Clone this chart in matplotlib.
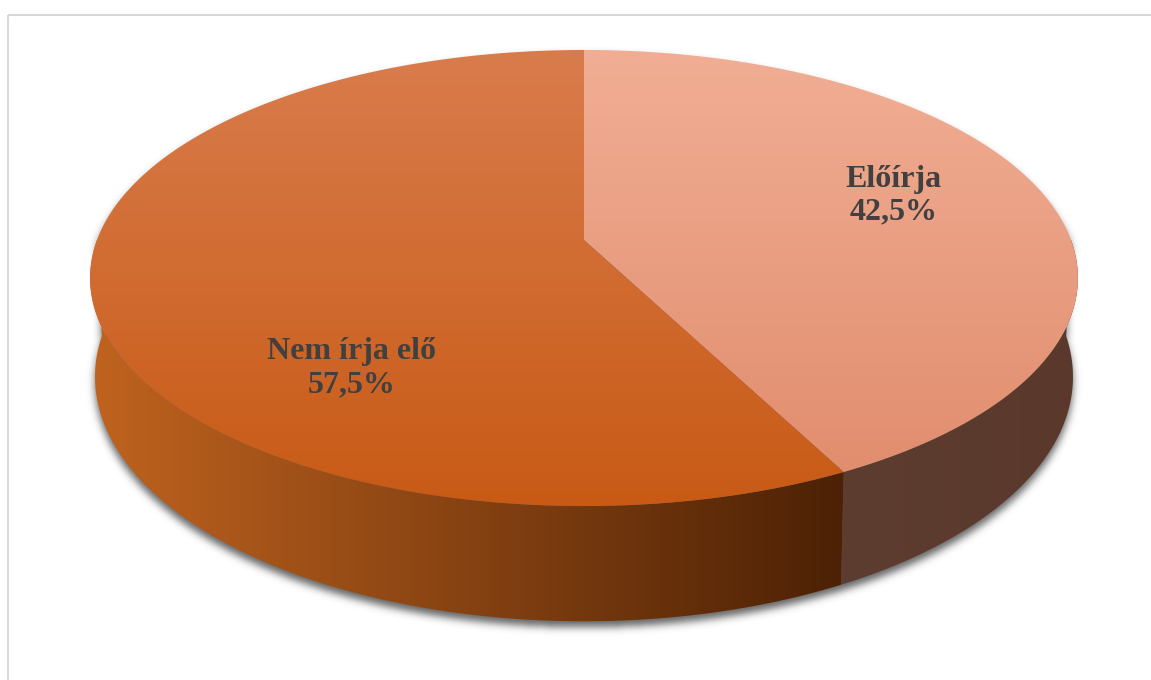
import numpy as np
import matplotlib
matplotlib.use("Agg")
import matplotlib.pyplot as plt
from matplotlib.patches import Polygon, Rectangle
from matplotlib.path import Path

# Data
labels = ["Előírja", "Nem írja elő"]
values = [42.5, 57.5]
value_texts = ["42,5%", "57,5%"]

# label anchor points (pixel coords, centre of the two-line label)
label_pos = [(894, 195), (352, 368)]

# top colour, bottom colour of each top face
top_colors = [("#F1AE94", "#E08B6B"), ("#D97C4C", "#C85A15")]
# side colours (left -> right)
side_colors = [("#5E3D31", "#5A392C"), ("#C0631F", "#4C2105")]

W, H = 1151, 680

# projection of the pie (perspective)
CX, CY = 584, 240
A, B = 487, 221.7
K = 0.1667
DEPTH = 96
BOTTOM_SCALE = 0.99   # bottom rim is a bit narrower (further from camera)


def proj(phi, r=1.0, drop=0.0):
    u = r * np.cos(phi)
    w = r * np.sin(phi)
    s = 1.0 / (1.0 + K * w)
    sx = BOTTOM_SCALE if drop else 1.0
    return CX + A * u * s * sx, CY - B * w * s + drop * s


def gradient_img(c1, c2, vertical, lo, hi):
    c1 = np.array(matplotlib.colors.to_rgb(c1))
    c2 = np.array(matplotlib.colors.to_rgb(c2))
    if vertical:
        t = np.clip((np.arange(H) - lo) / (hi - lo), 0, 1)[:, None, None]
        t = np.repeat(t, W, axis=1)
    else:
        t = np.clip((np.arange(W) - lo) / (hi - lo), 0, 1)[None, :, None]
        t = np.repeat(t, H, axis=0)
    return c1 + (c2 - c1) * t


fig = plt.figure(figsize=(W / 100, H / 100), dpi=100)
ax = fig.add_axes([0, 0, 1, 1])
ax.set_xlim(0, W)
ax.set_ylim(H, 0)
ax.axis("off")

# chart border
ax.add_patch(Rectangle((8, 15), W, H, fill=False, ec="#D9D9D9", lw=1.5, zorder=0))

# shadow under the pie
back = np.linspace(0, np.pi, 200)
front = np.linspace(np.pi, 2 * np.pi, 200)
bx, by = proj(back)
fx, fy = proj(front, drop=DEPTH)
sil = np.column_stack([np.r_[bx, fx], np.r_[by, fy] + 6])
yy, xx = np.mgrid[0:H, 0:W]
mask = Path(sil).contains_points(np.column_stack([xx.ravel() + 0.5, yy.ravel() + 0.5]))
mask = mask.reshape(H, W).astype(float)
k = np.exp(-0.5 * (np.arange(-12, 13) / 4.0) ** 2)
k /= k.sum()
mask = np.apply_along_axis(lambda r: np.convolve(r, k, mode="same"), 1, mask)
mask = np.apply_along_axis(lambda c: np.convolve(c, k, mode="same"), 0, mask)
shadow = np.zeros((H, W, 4))
shadow[..., :3] = 0.25
shadow[..., 3] = mask * 0.8
ax.imshow(shadow, extent=(0, W, H, 0), zorder=1, interpolation="bilinear")

# slice angles (clockwise from 12 o'clock)
fracs = np.array(values) / sum(values)
starts = np.pi / 2 - 2 * np.pi * np.r_[0, np.cumsum(fracs)[:-1]]
ends = starts - 2 * np.pi * fracs

# sides (front half only)
for i in range(len(values)):
    a1, a0 = starts[i], ends[i]
    lo, hi = max(a0, -np.pi), min(a1, 0.0)
    if hi <= lo:
        continue
    t = np.linspace(lo, hi, 150)
    tx, ty = proj(t)
    qx, qy = proj(t[::-1], drop=DEPTH)
    poly = Polygon(np.column_stack([np.r_[tx, qx], np.r_[ty, qy]]), closed=True,
                   fc="none", ec="none")
    ax.add_patch(poly)
    img = gradient_img(side_colors[i][0], side_colors[i][1], False, tx.min(), tx.max())
    im = ax.imshow(img, extent=(0, W, H, 0), zorder=2, interpolation="bilinear")
    im.set_clip_path(poly)

# top faces
for i in range(len(values)):
    t = np.linspace(starts[i], ends[i], 300)
    tx, ty = proj(t)
    pts = np.column_stack([np.r_[CX, tx], np.r_[CY, ty]])
    poly = Polygon(pts, closed=True, fc="none", ec="none")
    ax.add_patch(poly)
    img = gradient_img(top_colors[i][0], top_colors[i][1], True, 50, 506)
    im = ax.imshow(img, extent=(0, W, H, 0), zorder=3, interpolation="bilinear")
    im.set_clip_path(poly)

# labels
for i in range(len(values)):
    x, y = label_pos[i]
    ax.text(x, y - 16, labels[i], ha="center", va="center", fontsize=23,
            fontweight="bold", family="Liberation Serif", color="#404040", zorder=5)
    ax.text(x, y + 17, value_texts[i], ha="center", va="center", fontsize=23,
            fontweight="bold", family="Liberation Serif", color="#404040", zorder=5)

fig.savefig("out.png", dpi=100)
